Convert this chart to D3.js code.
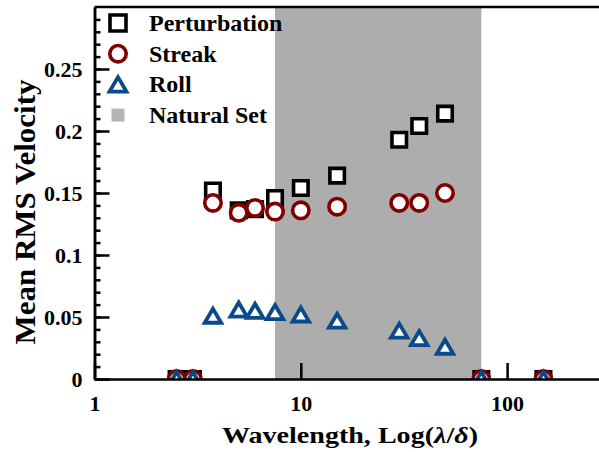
<!DOCTYPE html>
<html>
<head>
<meta charset="utf-8">
<script src="https://cdn.jsdelivr.net/npm/d3@7"></script>
<style>
  body { margin: 0; background: #fff; }
  svg { display: block; font-family: "Liberation Serif", "Times New Roman", serif; font-weight: bold; }
</style>
</head>
<body>
<div id="wrapper"></div>
<script>
// data
const wavelength = [2.5, 3, 3.75, 5, 6, 7.5, 10, 15, 30, 37.5, 50, 75, 150]
const perturbation = [0, 0, 0.152, 0.136, 0.137, 0.146, 0.154, 0.164, 0.193, 0.204, 0.214, 0, 0]
const streak = [0, 0, 0.142, 0.134, 0.138, 0.135, 0.136, 0.139, 0.142, 0.142, 0.150, 0, 0]
const roll = [0, 0, 0.051, 0.056, 0.055, 0.054, 0.052, 0.047, 0.039, 0.033, 0.026, 0, 0]
const naturalSet = [7.5, 75]
const xTicks = [1, 10, 100]
const yTicks = [0, 0.05, 0.1, 0.15, 0.2, 0.25]
const legendLabels = ["Perturbation", "Streak", "Roll", "Natural Set"]

const colors = {
  perturbation: "#000000",
  streak: "#800000",
  roll: "#0a4a8a",
  natural: "#adadad"
}

// dimensions
let dimensions = {
  width: 599,
  height: 452,
  margin: { top: 7, left: 94.5, bottom: 73 }
}
dimensions.bottom = dimensions.height - dimensions.margin.bottom
const decade = 206.3

const wrapper = d3.select("#wrapper")
  .append("svg")
    .attr("width", dimensions.width)
    .attr("height", dimensions.height)

// scales
const xScale = d3.scaleLog()
  .domain([1, 300])
  .range([dimensions.margin.left, dimensions.margin.left + decade * Math.log10(300)])

const yScale = d3.scaleLinear()
  .domain([0, 0.3])
  .range([dimensions.bottom, dimensions.margin.top])

wrapper.append("clipPath")
    .attr("id", "plot-clip")
  .append("rect")
    .attr("x", dimensions.margin.left)
    .attr("y", dimensions.margin.top)
    .attr("width", xScale(300) - dimensions.margin.left)
    .attr("height", dimensions.bottom - dimensions.margin.top)

const plot = wrapper.append("g").attr("clip-path", "url(#plot-clip)")

// natural set band
plot.append("rect")
  .attr("x", xScale(naturalSet[0]))
  .attr("width", xScale(naturalSet[1]) - xScale(naturalSet[0]))
  .attr("y", yScale(0.3))
  .attr("height", yScale(0) - yScale(0.3))
  .attr("fill", colors.natural)

// markers
const squarePath = s => `M${-s/2},${-s/2}h${s}v${s}h${-s}Z`
const trianglePath = (w, h) => `M0,${-h/2}L${w/2},${h/2}L${-w/2},${h/2}Z`

const points = values => wavelength.map((x, i) => ({ x, y: values[i] }))

plot.selectAll(".pert")
  .data(points(perturbation))
  .enter().append("path")
    .attr("class", "pert")
    .attr("transform", d => `translate(${xScale(d.x)},${yScale(d.y)})`)
    .attr("d", squarePath(14.5))
    .attr("fill", "#fff")
    .attr("stroke", colors.perturbation)
    .attr("stroke-width", 3.6)

plot.selectAll(".streak")
  .data(points(streak))
  .enter().append("circle")
    .attr("class", "streak")
    .attr("cx", d => xScale(d.x))
    .attr("cy", d => yScale(d.y))
    .attr("r", 8.2)
    .attr("fill", "#fff")
    .attr("stroke", colors.streak)
    .attr("stroke-width", 3.6)

plot.selectAll(".roll")
  .data(points(roll))
  .enter().append("path")
    .attr("class", "roll")
    .attr("transform", d => `translate(${xScale(d.x)},${yScale(d.y)})`)
    .attr("d", trianglePath(16.5, 14))
    .attr("fill", "#fff")
    .attr("stroke", colors.roll)
    .attr("stroke-width", 3.8)

// axes
wrapper.append("g")
  .attr("transform", `translate(0,${dimensions.bottom})`)
  .call(d3.axisBottom(xScale)
    .tickValues(xTicks)
    .tickFormat(d3.format("d"))
    .tickSize(-16)
    .tickSizeOuter(0)
    .tickPadding(16))

wrapper.append("g")
  .attr("transform", `translate(${dimensions.margin.left},0)`)
  .call(d3.axisLeft(yScale)
    .tickValues(d3.range(0, 0.3, 0.01))
    .tickFormat("")
    .tickSize(-6)
    .tickSizeOuter(0))

wrapper.append("g")
  .attr("transform", `translate(${dimensions.margin.left},0)`)
  .call(d3.axisLeft(yScale)
    .tickValues(yTicks)
    .tickFormat(d => String(d))
    .tickSize(-15)
    .tickSizeOuter(0)
    .tickPadding(12))

wrapper.selectAll(".domain, .tick line")
  .attr("stroke", "#000")
  .attr("stroke-width", 2.5)

wrapper.selectAll(".tick text")
  .attr("fill", "#000")
  .style("font-family", "'Liberation Serif', 'Times New Roman', serif")
  .style("font-weight", "bold")
  .style("font-size", "22px")

// top frame line
wrapper.append("line")
  .attr("x1", dimensions.margin.left)
  .attr("x2", dimensions.width)
  .attr("y1", yScale(0.3))
  .attr("y2", yScale(0.3))
  .attr("stroke", "#000")
  .attr("stroke-width", 2.5)

// axis titles
const xTitle = wrapper.append("text")
  .attr("x", 350)
  .attr("y", 443)
  .attr("text-anchor", "middle")
  .attr("textLength", 256)
  .attr("lengthAdjust", "spacingAndGlyphs")
  .style("font-size", "24px")
xTitle.append("tspan").text("Wavelength, Log(")
xTitle.append("tspan").style("font-style", "italic").text("λ")
xTitle.append("tspan").text("/")
xTitle.append("tspan").style("font-style", "italic").text("δ")
xTitle.append("tspan").text(")")

wrapper.append("text")
  .attr("transform", `translate(35,${(dimensions.margin.top + dimensions.bottom) / 2 + 19}) rotate(-90)`)
  .attr("text-anchor", "middle")
  .attr("textLength", 265)
  .attr("lengthAdjust", "spacingAndGlyphs")
  .style("font-size", "29px")
  .text("Mean RMS Velocity")

// legend
const legend = wrapper.append("g")
const rowY = i => 23 + i * 30.7
const markerX = 118

legend.append("path")
  .attr("transform", `translate(${markerX},${rowY(0)})`)
  .attr("d", squarePath(16))
  .attr("fill", "#fff")
  .attr("stroke", colors.perturbation)
  .attr("stroke-width", 3.6)

legend.append("circle")
  .attr("cx", markerX)
  .attr("cy", rowY(1))
  .attr("r", 8.2)
  .attr("fill", "#fff")
  .attr("stroke", colors.streak)
  .attr("stroke-width", 3.6)

legend.append("path")
  .attr("transform", `translate(${markerX},${rowY(2)})`)
  .attr("d", trianglePath(17, 14.5))
  .attr("fill", "#fff")
  .attr("stroke", colors.roll)
  .attr("stroke-width", 3.8)

legend.append("path")
  .attr("transform", `translate(${markerX},${rowY(3)})`)
  .attr("d", squarePath(13))
  .attr("fill", "#b4b4b4")

legend.selectAll(".legend-label")
  .data(legendLabels)
  .enter().append("text")
    .attr("class", "legend-label")
    .attr("x", 149)
    .attr("y", (d, i) => rowY(i) + 8)
    .style("font-size", "24px")
    .text(d => d)
</script>
</body>
</html>
